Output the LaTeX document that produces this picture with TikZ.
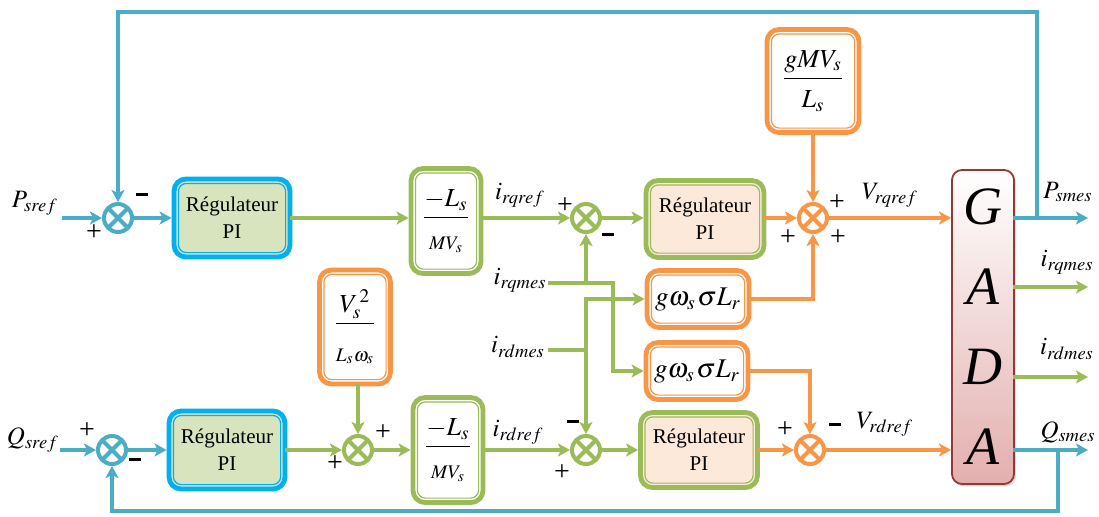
\documentclass[tikz,border=0pt]{standalone}
\usepackage{amsmath}
\usepackage{mathptmx}
\usepackage{fontspec}
\setmainfont{Liberation Serif}
\usetikzlibrary{arrows.meta,positioning,fit,calc,shadows}
\definecolor{lblue}{HTML}{4BACC6}
\definecolor{pblue}{HTML}{00B0F0}
\definecolor{lgreen}{HTML}{9BBB59}
\definecolor{lorange}{HTML}{F79646}
\definecolor{pigreen}{HTML}{D7E4BD}
\definecolor{piorange}{HTML}{FDE9D9}
\definecolor{gadared}{HTML}{953735}
\definecolor{gadafill}{HTML}{E3AFAE}
\tikzset{
  blk/.style={draw, rounded corners=6pt, line width=2.4pt, align=center, inner sep=1pt, font=\fontsize{10.5}{13.5}\selectfont},
  inl/.style={draw, rounded corners=4pt, line width=0.6pt, inner sep=-3.4pt},
  sj/.style={draw, circle, line width=2pt, minimum size=14pt, inner sep=0pt, fill=white},
  lnk/.style={line width=2pt, line cap=rect},
  arr/.style={lnk, -{Stealth[length=6pt,width=6.5pt,inset=1.5pt]}},
  sgn/.style={font=\fontsize{14}{15}\selectfont, inner sep=0pt},
  lbl/.style={font=\fontsize{12.5}{14}\selectfont, inner sep=0pt},
  gadabox/.style={draw=gadared, line width=0.9pt, rounded corners=5pt, top color=white, bottom color=gadafill, align=center, minimum width=31pt, minimum height=157pt, font=\fontsize{27}{40}\selectfont\itshape, drop shadow={shadow xshift=1pt, shadow yshift=-1.2pt, fill=gray!55}},
}
\begin{document}
\begin{tikzpicture}[x=0.5pt,y=-0.5pt]
\useasboundingbox (0,0) rectangle (1099,516);
\newcommand{\blkd}[7]{\node[blk, draw=#5, fill=#6, minimum width=#3pt, minimum height=#4pt] (#1) at #2 {#7}; \node[inl, draw=#5, fit=(#1)] (#1i) {};}
\newcommand{\sumj}[3]{\node[sj, draw=#3] (#1) at #2 {}; \draw[#3, line width=2pt] (#1.center) +(45:7pt) -- +(225:7pt) +(135:7pt) -- +(315:7pt);}
\newcommand{\mns}{\rule[0.25em]{6pt}{1.4pt}}
% blocks
\blkd{piP}{(232,218)}{58}{39}{pblue}{pigreen}{Régulateur\\PI}
\blkd{piQ}{(227,450)}{58}{39}{pblue}{pigreen}{Régulateur\\PI}
\blkd{kP}{(446,221)}{35}{52.5}{lgreen}{white}{\fontsize{13}{14}\selectfont$\dfrac{-L_s}{\rule{0pt}{14pt}\scriptstyle MV_s}$}
\blkd{kQ}{(448,450)}{35}{52.5}{lgreen}{white}{\fontsize{13}{14}\selectfont$\dfrac{-L_s}{\rule{0pt}{14pt}\scriptstyle MV_s}$}
\blkd{vQ}{(355,327)}{35.5}{57}{lorange}{white}{\fontsize{13}{14}\selectfont$\dfrac{V_s^{\,2}}{\rule{0pt}{17pt}\scriptstyle L_s\omega_s}$}
\blkd{piIq}{(705,219)}{59}{38.5}{lgreen}{piorange}{Régulateur\\PI}
\blkd{piId}{(699,450)}{58.5}{37.5}{lgreen}{piorange}{Régulateur\\PI}
\blkd{gq}{(813,81)}{46}{51.5}{lorange}{white}{\fontsize{13}{14}\selectfont$\dfrac{gMV_s}{\rule{0pt}{13pt}L_s}$}
\blkd{cq}{(698,299)}{51}{28.5}{lorange}{white}{\fontsize{13.5}{14}\selectfont$g\omega_s\mkern1mu\sigma L_r$}
\blkd{cd}{(697,371)}{51}{28.5}{lorange}{white}{\fontsize{13.5}{14}\selectfont$g\omega_s\mkern1mu\sigma L_r$}
\node[gadabox] (gada) at (983,327) {G\\A\\D\\A};
% summing junctions
\sumj{sP}{(118,218)}{lblue}
\sumj{sQ}{(112,450)}{lblue}
\sumj{sF}{(358,450)}{lgreen}
\sumj{sIq}{(586,218)}{lgreen}
\sumj{sId}{(586,450)}{lgreen}
\sumj{sVq}{(813,218)}{lorange}
\sumj{sVd}{(810,450)}{lorange}
% free ends
\coordinate (inP) at (64,218);
\coordinate (inQ) at (62,450);
\coordinate (fbP) at (1037,218);
\coordinate (topP) at (1037,12);
\coordinate (fbQ) at (1058,450);
\coordinate (botQ) at (1058,511);
\coordinate (outP) at (1088,218);
\coordinate (outIq) at (1088,287);
\coordinate (outId) at (1088,377);
\coordinate (outQ) at (1088,450);
\coordinate (iqm) at (550,283);
\coordinate (tq) at (613,283);
\coordinate (idm) at (550,350);
% labels
\node[lbl] (lPsref) at (35,203) {$P_{sref}$};
\node[lbl] (lQsref) at (33,440) {$Q_{sref}$};
\node[lbl] (lirqref) at (520,195) {$i_{rqref}$};
\node[lbl] (lirqmes) at (520,280) {$i_{rqmes}$};
\node[lbl] (lirdmes) at (518,347) {$i_{rdmes}$};
\node[lbl] (lirdref) at (518,432) {$i_{rdref}$};
\node[lbl] (lVrqref) at (890,195) {$V_{rqref}$};
\node[lbl] (lVrdref) at (885,424) {$V_{rdref}$};
\node[lbl] (lPsmes) at (1068,192) {$P_{smes}$};
\node[lbl] (loirq) at (1067,262) {$i_{rqmes}$};
\node[lbl] (loird) at (1067,349) {$i_{rdmes}$};
\node[lbl] (lQsmes) at (1068,432) {$Q_{smes}$};
% signs
\node[sgn] (sP1) at (94,233) {+};
\node[sgn] (sP2) at (142,198) {\mns};
\node[sgn] (sQ1) at (87,431) {+};
\node[sgn] (sQ2) at (135,463) {\mns};
\node[sgn] (sF1) at (383,433) {+};
\node[sgn] (sF2) at (335,464) {+};
\node[sgn] (sIq1) at (565,206) {+};
\node[sgn] (sIq2) at (608,238) {\mns};
\node[sgn] (sId1) at (573,425) {\mns};
\node[sgn] (sId2) at (562,473) {+};
\node[sgn] (sVq1) at (837,203) {+};
\node[sgn] (sVq2) at (788,238) {+};
\node[sgn] (sVq3) at (838,238) {+};
\node[sgn] (sVd1) at (785,430) {+};
\node[sgn] (sVd2) at (835,428) {\mns};
% P chain
\draw[arr, lblue] (inP) -- (sP.west);
\draw[arr, lblue] (sP.east) -- (piP.west);
\draw[arr, lgreen] (piP.east) -- (kP.west |- piP.east);
\draw[arr, lgreen] (kP.east |- sIq) -- (sIq.west);
\draw[arr, lgreen] (sIq.east) -- (piIq.west |- sIq);
\draw[arr, lorange] (piIq.east |- sVq) -- (sVq.west);
\draw[arr, lorange] (gq.south) -- (sVq.north);
\draw[arr, lorange] (cq.east) -| (sVq.south);
\draw[arr, lorange] (sVq.east) -- (gada.west |- sVq);
% Q chain
\draw[arr, lblue] (inQ) -- (sQ.west);
\draw[arr, lblue] (sQ.east) -- (piQ.west);
\draw[arr, lgreen] (piQ.east) -- (sF.west);
\draw[arr, lgreen] (sF |- vQ.south) -- (sF.north);
\draw[arr, lgreen] (sF.east) -- (kQ.west);
\draw[arr, lgreen] (kQ.east) -- (sId.west);
\draw[arr, lgreen] (sId.east) -- (piId.west);
\draw[arr, lorange] (piId.east) -- (sVd.west);
\draw[arr, lorange] (cd.east) -| (sVd.north);
\draw[arr, lorange] (sVd.east) -- (gada.west |- sVd);
% measured currents
\draw[lnk, lgreen] (iqm) -- (tq);
\draw[arr, lgreen] (iqm -| sIq) -- (sIq.south);
\draw[arr, lgreen] (tq) |- (cd.west);
\draw[lnk, lgreen] (idm) -- (idm -| sId);
\draw[arr, lgreen] (sId |- cq.west) -- (cq.west);
\draw[arr, lgreen] (sId |- cq.west) -- (sId.north);
% outputs and feedback
\draw[arr, lblue] (gada.east |- outP) -- (outP);
\draw[arr, lgreen] (gada.east |- outIq) -- (outIq);
\draw[arr, lgreen] (gada.east |- outId) -- (outId);
\draw[arr, lblue] (gada.east |- outQ) -- (outQ);
\draw[arr, lblue] (fbP) -- (topP) -| (sP.north);
\draw[arr, lblue] (fbQ) -- (botQ) -| (sQ.south);
\end{tikzpicture}
\end{document}
